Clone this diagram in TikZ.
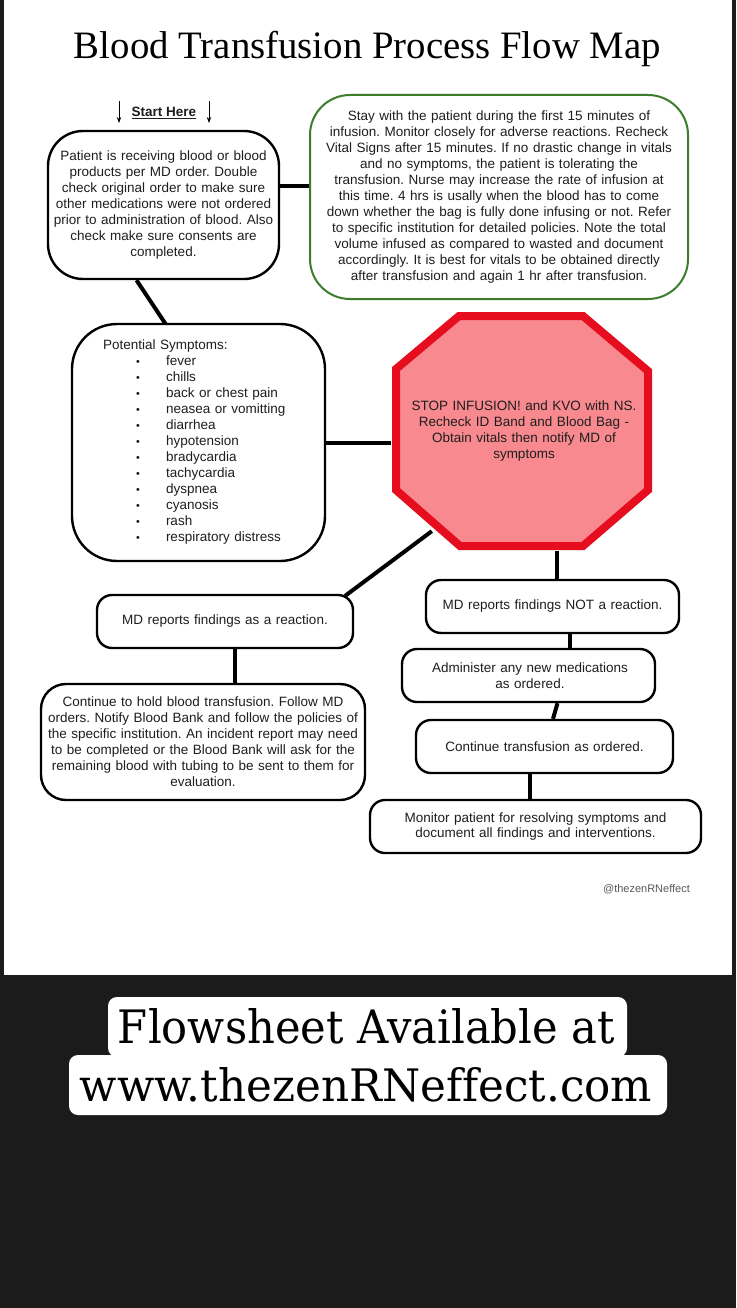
\documentclass[tikz,border=0pt]{standalone}
\usepackage{fontspec}
\setmainfont[Ligatures=NoCommon]{Liberation Sans}
\newfontfamily\titlefont{Liberation Serif}
\newfontfamily\slabfont[Ligatures=NoCommon]{DejaVu Serif}
\usetikzlibrary{arrows.meta,calc}
\definecolor{darkbg}{HTML}{1B1B1B}
\definecolor{boxgreen}{HTML}{3B7D2C}
\definecolor{stopred}{HTML}{E60D1F}
\definecolor{stoppink}{HTML}{F8898F}
\definecolor{txt}{HTML}{1E1E1E}
\frenchspacing
\begin{document}
\frenchspacing
\begin{tikzpicture}[x=1pt,y=-1pt,
  basefont/.style={font=\fontsize{13.5}{16}\selectfont\frenchspacing, text=txt},
  rbox/.style={draw=black, line width=2.4pt, rounded corners=#1, fill=white,
    align=center, inner sep=0pt, basefont},
  conn/.style={line width=4pt, black},
  startarrow/.style={line width=1pt, -{Stealth[length=6pt,width=4.5pt]}}]
\useasboundingbox (0,0) rectangle (736,1308);
% backgrounds
\fill[darkbg] (0,0) rectangle (736,1308);
\fill[white] (4,0) rectangle (732,975);
% title
\node[anchor=base, font=\titlefont\fontsize{38.8}{44}\selectfont, text=black] (title) at (367.5,59) {Blood Transfusion Process Flow Map};
% start here
\node[font=\bfseries\fontsize{13.5}{16}\selectfont, text=txt] (start) at (164,113) {\underline{Start Here}};
\coordinate (a1s) at (119,101); \coordinate (a1e) at (119,123);
\coordinate (a2s) at (209,101); \coordinate (a2e) at (209,123);
\draw[startarrow] (a1s) -- (a1e);
\draw[startarrow] (a2s) -- (a2e);
% boxes
\node[rbox=35pt, minimum width=231pt, minimum height=148pt, text width=225pt] (p1) at (163.5,205)
 {Patient is receiving blood or blood\\ products per MD order. Double\\ check original order to make sure\\ other medications were not ordered\\ prior to administration of blood. Also\\ check make sure consents are\\ completed.};
\node[rbox=40pt, draw=boxgreen, line width=2pt, minimum width=378pt, minimum height=204pt, text width=372pt] (p2) at (499,197)
 {Stay with the patient during the first 15 minutes of\\ infusion. Monitor closely for adverse reactions. Recheck\\ Vital Signs after 15 minutes. If no drastic change in vitals\\ and no symptoms, the patient is tolerating the\\ transfusion. Nurse may increase the rate of infusion at\\ this time. 4 hrs is usally when the blood has to come\\ down whether the bag is fully done infusing or not. Refer\\ to specific institution for detailed policies. Note the total\\ volume infused as compared to wasted and document\\ accordingly. It is best for vitals to be obtained directly\\ after transfusion and again 1 hr after transfusion.};
\newcommand{\symitem}[1]{\\\hspace*{33pt}\makebox[30pt][l]{\raisebox{0.5pt}{\scalebox{0.8}{\textbullet}}}#1}
\node[rbox=45pt, align=left, minimum width=253pt, minimum height=237pt, text width=191pt] (sym) at (198.5,442.5)
 {Potential Symptoms:\symitem{fever}\symitem{chills}\symitem{back or chest pain}\symitem{neasea or vomitting}\symitem{diarrhea}\symitem{hypotension}\symitem{bradycardia}\symitem{tachycardia}\symitem{dyspnea}\symitem{cyanosis}\symitem{rash}\symitem{respiratory distress}};
% stop sign
\draw[line width=8pt, stopred, fill=stoppink, line join=miter]
  (459,316) -- (583,316) -- (648,371) -- (648,490) -- (583,546) -- (460,546) -- (396,490) -- (396,369) -- cycle;
\node[align=center, inner sep=0pt, basefont, minimum width=261pt, minimum height=239pt, text width=240pt] (stop) at (521.5,431.5)
 {\hspace*{5pt}STOP INFUSION! and KVO with NS.\\ \hspace*{5pt}Recheck ID Band and Blood Bag -\\ \hspace*{5pt}Obtain vitals then notify MD of\\ \hspace*{5pt}symptoms\\[1pt]};
\node[rbox=15pt, minimum width=256pt, minimum height=53pt, text width=250pt] (mdr) at (225,621.5)
 {MD reports findings as a reaction.\\[4pt]};
\node[rbox=25pt, minimum width=324pt, minimum height=116pt, text width=318pt] (hold) at (203,742)
 {Continue to hold blood transfusion. Follow MD\\ orders. Notify Blood Bank and follow the policies of\\ the specific institution. An incident report may need\\ to be completed or the Blood Bank will ask for the\\ remaining blood with tubing to be sent to them for\\ evaluation.};
\node[rbox=15pt, minimum width=253pt, minimum height=53pt, text width=247pt] (mdn) at (552.5,606.5)
 {MD reports findings NOT a reaction.\\[4pt]};
\node[rbox=15pt, minimum width=253pt, minimum height=53pt, text width=247pt] (adm) at (528.5,675.5)
 {\hspace*{3pt}Administer any new medications\\ \hspace*{3pt}as ordered.};
\node[rbox=15pt, minimum width=257pt, minimum height=53pt, text width=251pt] (ctr) at (544.5,746.5)
 {Continue transfusion as ordered.\\[3pt]};
\node[rbox=15pt, minimum width=331pt, minimum height=53pt, text width=325pt] (mon) at (535.5,826.5)
 {Monitor patient for resolving symptoms and\\ document all findings and interventions.\\[6pt]};
% connectors
\coordinate (yc) at (0,186);
\draw[conn] (p1.east |- yc) -- (p2.west |- yc);
\draw[conn] ($(p1.south)+(-27,0)$) -- ($(sym.north)+(-33,1)$);
\draw[conn] (sym.east) -- (sym.east -| stop.west);
\draw[conn] ($(stop.south west)+(41,-20)$) -- ($(mdr.north east)+(-9,2)$);
\coordinate (c1) at ($(mdn.north)+(4.5,0)$);
\draw[conn] (c1 |- stop.south) -- (c1);
\coordinate (c2) at ($(mdr.south)+(10,0)$);
\draw[conn] (c2) -- (c2 |- hold.north);
\coordinate (c3) at ($(mdn.south)+(17.5,0)$);
\draw[conn] (c3) -- (c3 |- adm.north);
\draw[conn] ($(adm.south)+(29,0)$) -- ($(ctr.north)+(8.5,0)$);
\coordinate (c4) at ($(ctr.south)+(-15,0)$);
\draw[conn] (c4) -- (c4 |- mon.north);
% watermark
\node[anchor=base, font=\fontsize{11}{13}\selectfont, text=black!65] (wm) at (646.5,892) {@thezenRNeffect};
% bottom banner
\fill[white, rounded corners=9pt] (108,997) rectangle (627,1057);
\fill[white, rounded corners=9pt] (69,1055) rectangle (667,1115);
\node[anchor=base, inner sep=0pt, text=black] (l1) at (366.5,1043) {\resizebox{497pt}{35pt}{\slabfont Flowsheet Available at}};
\node[anchor=base, inner sep=0pt, text=black] (l2) at (366,1101) {\resizebox{572pt}{34pt}{\slabfont www.thezenRNeffect.com}};
\end{tikzpicture}
\end{document}
